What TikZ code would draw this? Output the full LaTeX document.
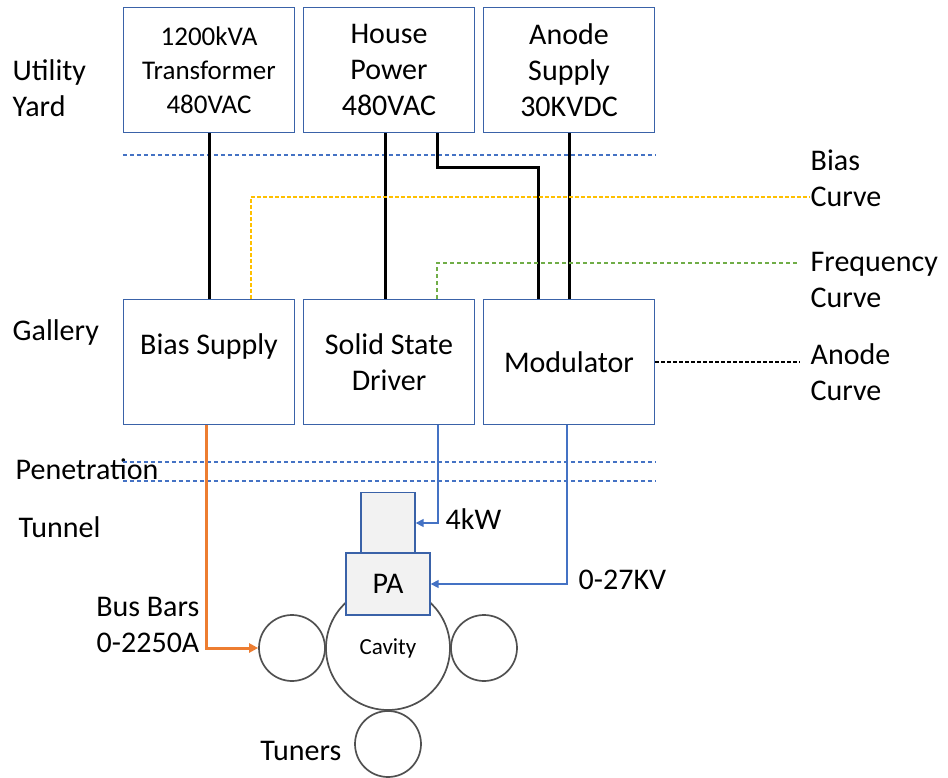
\documentclass[tikz,border=0pt]{standalone}
\usepackage{fontspec}
\setmainfont{Carlito}
\usetikzlibrary{arrows.meta}
\definecolor{boxblue}{HTML}{3A62A8}
\definecolor{lineblue}{HTML}{4472C4}
\definecolor{busorange}{HTML}{ED7D31}
\definecolor{biasyellow}{HTML}{FFC000}
\definecolor{freqgreen}{HTML}{70AD47}
\definecolor{tubegrey}{HTML}{F2F2F2}
\definecolor{ringgrey}{HTML}{505050}
\begin{document}
\begin{tikzpicture}[x=1pt, y=-1pt, line width=1.4pt,
  every node/.style={font=\fontsize{30}{36}\selectfont, inner sep=0pt},
  unit/.style={draw=boxblue, minimum width=171pt, minimum height=125pt, align=center},
  power/.style={black, line width=3pt},
  zone/.style={lineblue, dash pattern=on 4pt off 3pt},
  feed/.style={lineblue, line width=1.6pt, -{Triangle[length=8pt, width=8pt]}},
  ring/.style={circle, draw=ringgrey, line width=1.7pt},
  tube/.style={draw=boxblue, fill=tubegrey}]
  \useasboundingbox (0,0) rectangle (948,778);
  % utility yard
  \node[unit, font=\fontsize{27}{34}\selectfont] (trafo) at (209,70) {1200kVA\\Transformer\\480VAC};
  \node[unit] (house) at (389,70) {House\\Power\\480VAC};
  \node[unit] (anode) at (569,70) {Anode\\Supply\\30KVDC};
  % gallery
  \node[unit] (bias) at (209,362) {Bias Supply\\\phantom{x}};
  \node[unit] (ssd) at (389,362) {Solid State\\Driver};
  \node[unit] (mod) at (569,362) {Modulator};
  % zone names and curve inputs
  \node[anchor=west, align=left] (yard) at (12,88) {Utility\\Yard};
  \node[anchor=west] (gallery) at (12,333) {Gallery};
  \node[anchor=west] (pen) at (15,469) {Penetration};
  \node[anchor=west] (tunnel) at (18,527) {Tunnel};
  \node[anchor=west, align=left] (biasc) at (810,178) {Bias\\Curve};
  \node[anchor=west, align=left] (freqc) at (810,280) {Frequency\\Curve};
  \node[anchor=west, align=left] (anodec) at (810,372) {Anode\\Curve};
  \draw[zone] (trafo.south west |- 0,155) -- (anode.south east |- 0,155);
  \draw[zone] (bias.south west |- 0,462) -- (mod.south east |- 0,462);
  \draw[zone] (bias.south west |- 0,481) -- (mod.south east |- 0,481);
  % tunnel: cavity with tuners, PA and driver on top
  \node[ring, minimum size=124pt, font=\fontsize{23}{28}\selectfont] (cav) at (388,648) {Cavity};
  \node[ring, minimum size=66pt] (tunl) at (292,648) {};
  \node[ring, minimum size=66pt] (tunr) at (484,648) {};
  \node[ring, minimum size=66pt] (tunb) at (388,744) {};
  \node[tube, minimum width=54pt, minimum height=61pt] (drv) at (388,523) {};
  \node[tube, minimum width=84pt, minimum height=62pt] (pa) at (388,584) {PA};
  \node[anchor=west] (kw) at (445,519) {4kW};
  \node[anchor=west] (kv) at (578,580) {0-27KV};
  \node[anchor=east, align=right] (bus) at (200,625) {Bus Bars\\0-2250A};
  \node[anchor=east] (tuners) at (342,751) {Tuners};
  % power feeds
  \draw[power] (trafo.south) -- (bias.north);
  \draw[power] ([xshift=-4pt]house.south) -- ([xshift=-4pt]ssd.north);
  \draw[power] ([xshift=48pt]house.south) -- ++(0,34) -| ([xshift=-31pt]mod.north);
  \draw[power] (anode.south) -- (mod.north);
  % control curves
  \draw[biasyellow, line width=2pt, dash pattern=on 4pt off 2pt] ([xshift=42pt]bias.north) |- ([yshift=-19pt]biasc.west);
  \draw[freqgreen, dash pattern=on 4pt off 3pt] ([xshift=48pt]ssd.north) |- ([xshift=-10pt, yshift=17pt]freqc.west);
  \draw[black, line width=1.5pt, dash pattern=on 4pt off 2pt] (mod.east) -- ([xshift=-10pt]mod.east -| anodec.west);
  % into the tunnel
  \draw[busorange, line width=3pt, -{Triangle[length=9pt, width=9pt]}] ([xshift=-3pt]bias.south) |- (tunl.west);
  \draw[feed] ([xshift=49pt]ssd.south) |- (drv.east);
  \draw[feed] ([xshift=-2pt]mod.south) |- (pa.east);
\end{tikzpicture}
\end{document}
